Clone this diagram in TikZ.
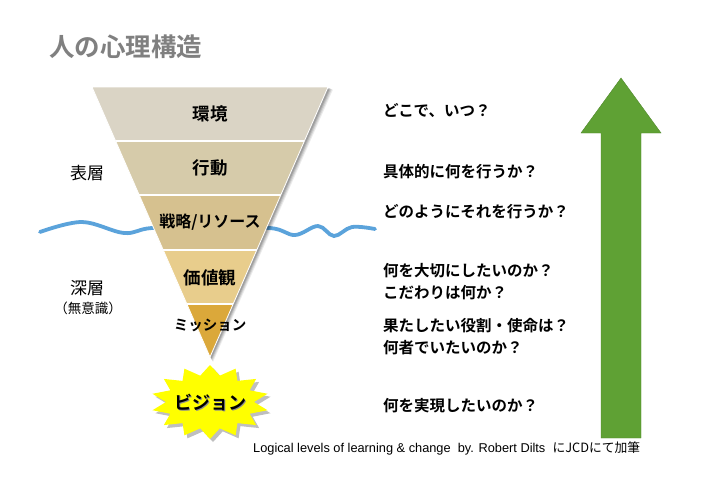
\documentclass[tikz,border=0pt]{standalone}
\usepackage{fontspec}
\setmainfont{Noto Sans CJK JP}[BoldFont={Noto Sans CJK JP Bold}]
\newfontfamily\latinfont{Liberation Sans}
\usetikzlibrary{calc}
\definecolor{bandA}{RGB}{218,212,197}
\definecolor{bandB}{RGB}{214,203,170}
\definecolor{bandC}{RGB}{214,193,143}
\definecolor{bandD}{RGB}{232,205,140}
\definecolor{bandE}{RGB}{219,168,58}
\definecolor{wave}{RGB}{91,163,219}
\definecolor{arrowgreen}{RGB}{95,161,52}
\definecolor{titlegray}{RGB}{128,128,128}
\definecolor{staryellow}{RGB}{255,255,0}
\begin{document}
\begin{tikzpicture}[x=1pt,y=-1pt,
  bandlabel/.style={font=\bfseries\fontsize{17.5}{20}\selectfont, inner sep=0pt},
  sidelabel/.style={font=\fontsize{17}{20}\selectfont, inner sep=0pt},
  question/.style={anchor=west, align=left, font=\bfseries\fontsize{15.5}{22}\selectfont, inner sep=0pt},
  sep/.style={white, line width=1.3pt}]
\useasboundingbox[fill=white] (0,0) rectangle (720,480);

% title
\node[anchor=west, inner sep=0pt, text=titlegray, font=\bfseries\fontsize{25.5}{28}\selectfont] (title) at (49,47) {人の心理構造};

% wave (behind funnel)
\draw[wave, line width=3.8pt, line cap=round] plot[smooth, tension=0.6] coordinates
  {(40,232) (82,222) (124,233) (152,228) (210,228) (270,228) (295,235) (318,226) (334,236) (352,227) (375,229)};

% funnel shadow
\foreach \d/\o in {5/0.08,4/0.1,3/0.12,2/0.14}{
  \fill[black, opacity=\o] (92+\d,87+\d*0.5) -- (328+\d,87+\d*0.5) -- (210+\d*0.6,357+\d) -- cycle;
}
% funnel bands
\fill[bandA] (92,87) -- (328,87) -- (304.4,141) -- (115.6,141) -- cycle;
\fill[bandB] (115.6,141) -- (304.4,141) -- (280.8,195) -- (139.2,195) -- cycle;
\fill[bandC] (139.2,195) -- (280.8,195) -- (256.8,250) -- (163.2,250) -- cycle;
\fill[bandD] (163.2,250) -- (256.8,250) -- (233.2,304) -- (186.8,304) -- cycle;
\fill[bandE] (186.8,304) -- (233.2,304) -- (210,357) -- cycle;
\draw[sep] (115.6,141) -- (304.4,141);
\draw[sep] (139.2,195) -- (280.8,195);
\draw[sep] (163.2,250) -- (256.8,250);
\draw[sep] (186.8,304) -- (233.2,304);
\draw[white, line width=0.8pt, line join=round] (92,87) -- (328,87) -- (210,357) -- cycle;

\node[bandlabel] (env) at (210,114) {環境};
\node[bandlabel] (beh) at (210,168) {行動};
\node[bandlabel, font=\bfseries\fontsize{16}{18}\selectfont] (str) at (210,222) {戦略/リソース};
\node[bandlabel] (val) at (210,278) {価値観};
\node[bandlabel, font=\bfseries\fontsize{14.5}{17}\selectfont] (mis) at (210,325) {ミッション};

% side labels
\node[sidelabel] (surf) at (87,173) {表層};
\node[sidelabel] (deep) at (87,288) {深層};
\node[inner sep=0pt, font=\fontsize{13.5}{15}\selectfont] (uncon) at (88,308) {（無意識）};

% star burst
\fill[black, opacity=0.25] plot[variable=\t, samples at={0,...,27}]
  ({213+ifthenelse(mod(\t,2)==0,59,44)*cos(\t*360/28+90)}, {405+ifthenelse(mod(\t,2)==0,37,27)*sin(\t*360/28+90)}) -- cycle;
\fill[staryellow] plot[variable=\t, samples at={0,...,27}]
  ({210+ifthenelse(mod(\t,2)==0,59,44)*cos(\t*360/28+90)}, {402+ifthenelse(mod(\t,2)==0,37,27)*sin(\t*360/28+90)}) -- cycle;
\node[inner sep=0pt, text=black!45, font=\bfseries\fontsize{18}{20}\selectfont] at (211.5,403.5) {ビジョン};
\node[inner sep=0pt, font=\bfseries\fontsize{18}{20}\selectfont] (vis) at (210,402) {ビジョン};

% questions
\node[question] (q1) at (383,110) {どこで、いつ？};
\node[question] (q2) at (383,172) {具体的に何を行うか？};
\node[question] (q3) at (383,212) {どのようにそれを行うか？};
\node[question] (q4) at (383,282) {何を大切にしたいのか？\\こだわりは何か？};
\node[question] (q5) at (383,337) {果たしたい役割・使命は？\\何者でいたいのか？};
\node[question] (q6) at (383,406) {何を実現したいのか？};

% green arrow
\fill[arrowgreen, draw=arrowgreen!85!black, line width=0.4pt] (621,78) -- (661,133) -- (641,133) -- (641,438) -- (601,438) -- (601,133) -- (581,133) -- cycle;

% credit
\node[anchor=west, inner sep=0pt] (credit) at (253,448)
  {\resizebox{387pt}{!}{\fontsize{12}{14}\selectfont\latinfont Logical levels of learning \& change\ \ by. Robert Dilts\ \ {\rmfamily にJCDにて加筆}}};
\end{tikzpicture}
\end{document}
